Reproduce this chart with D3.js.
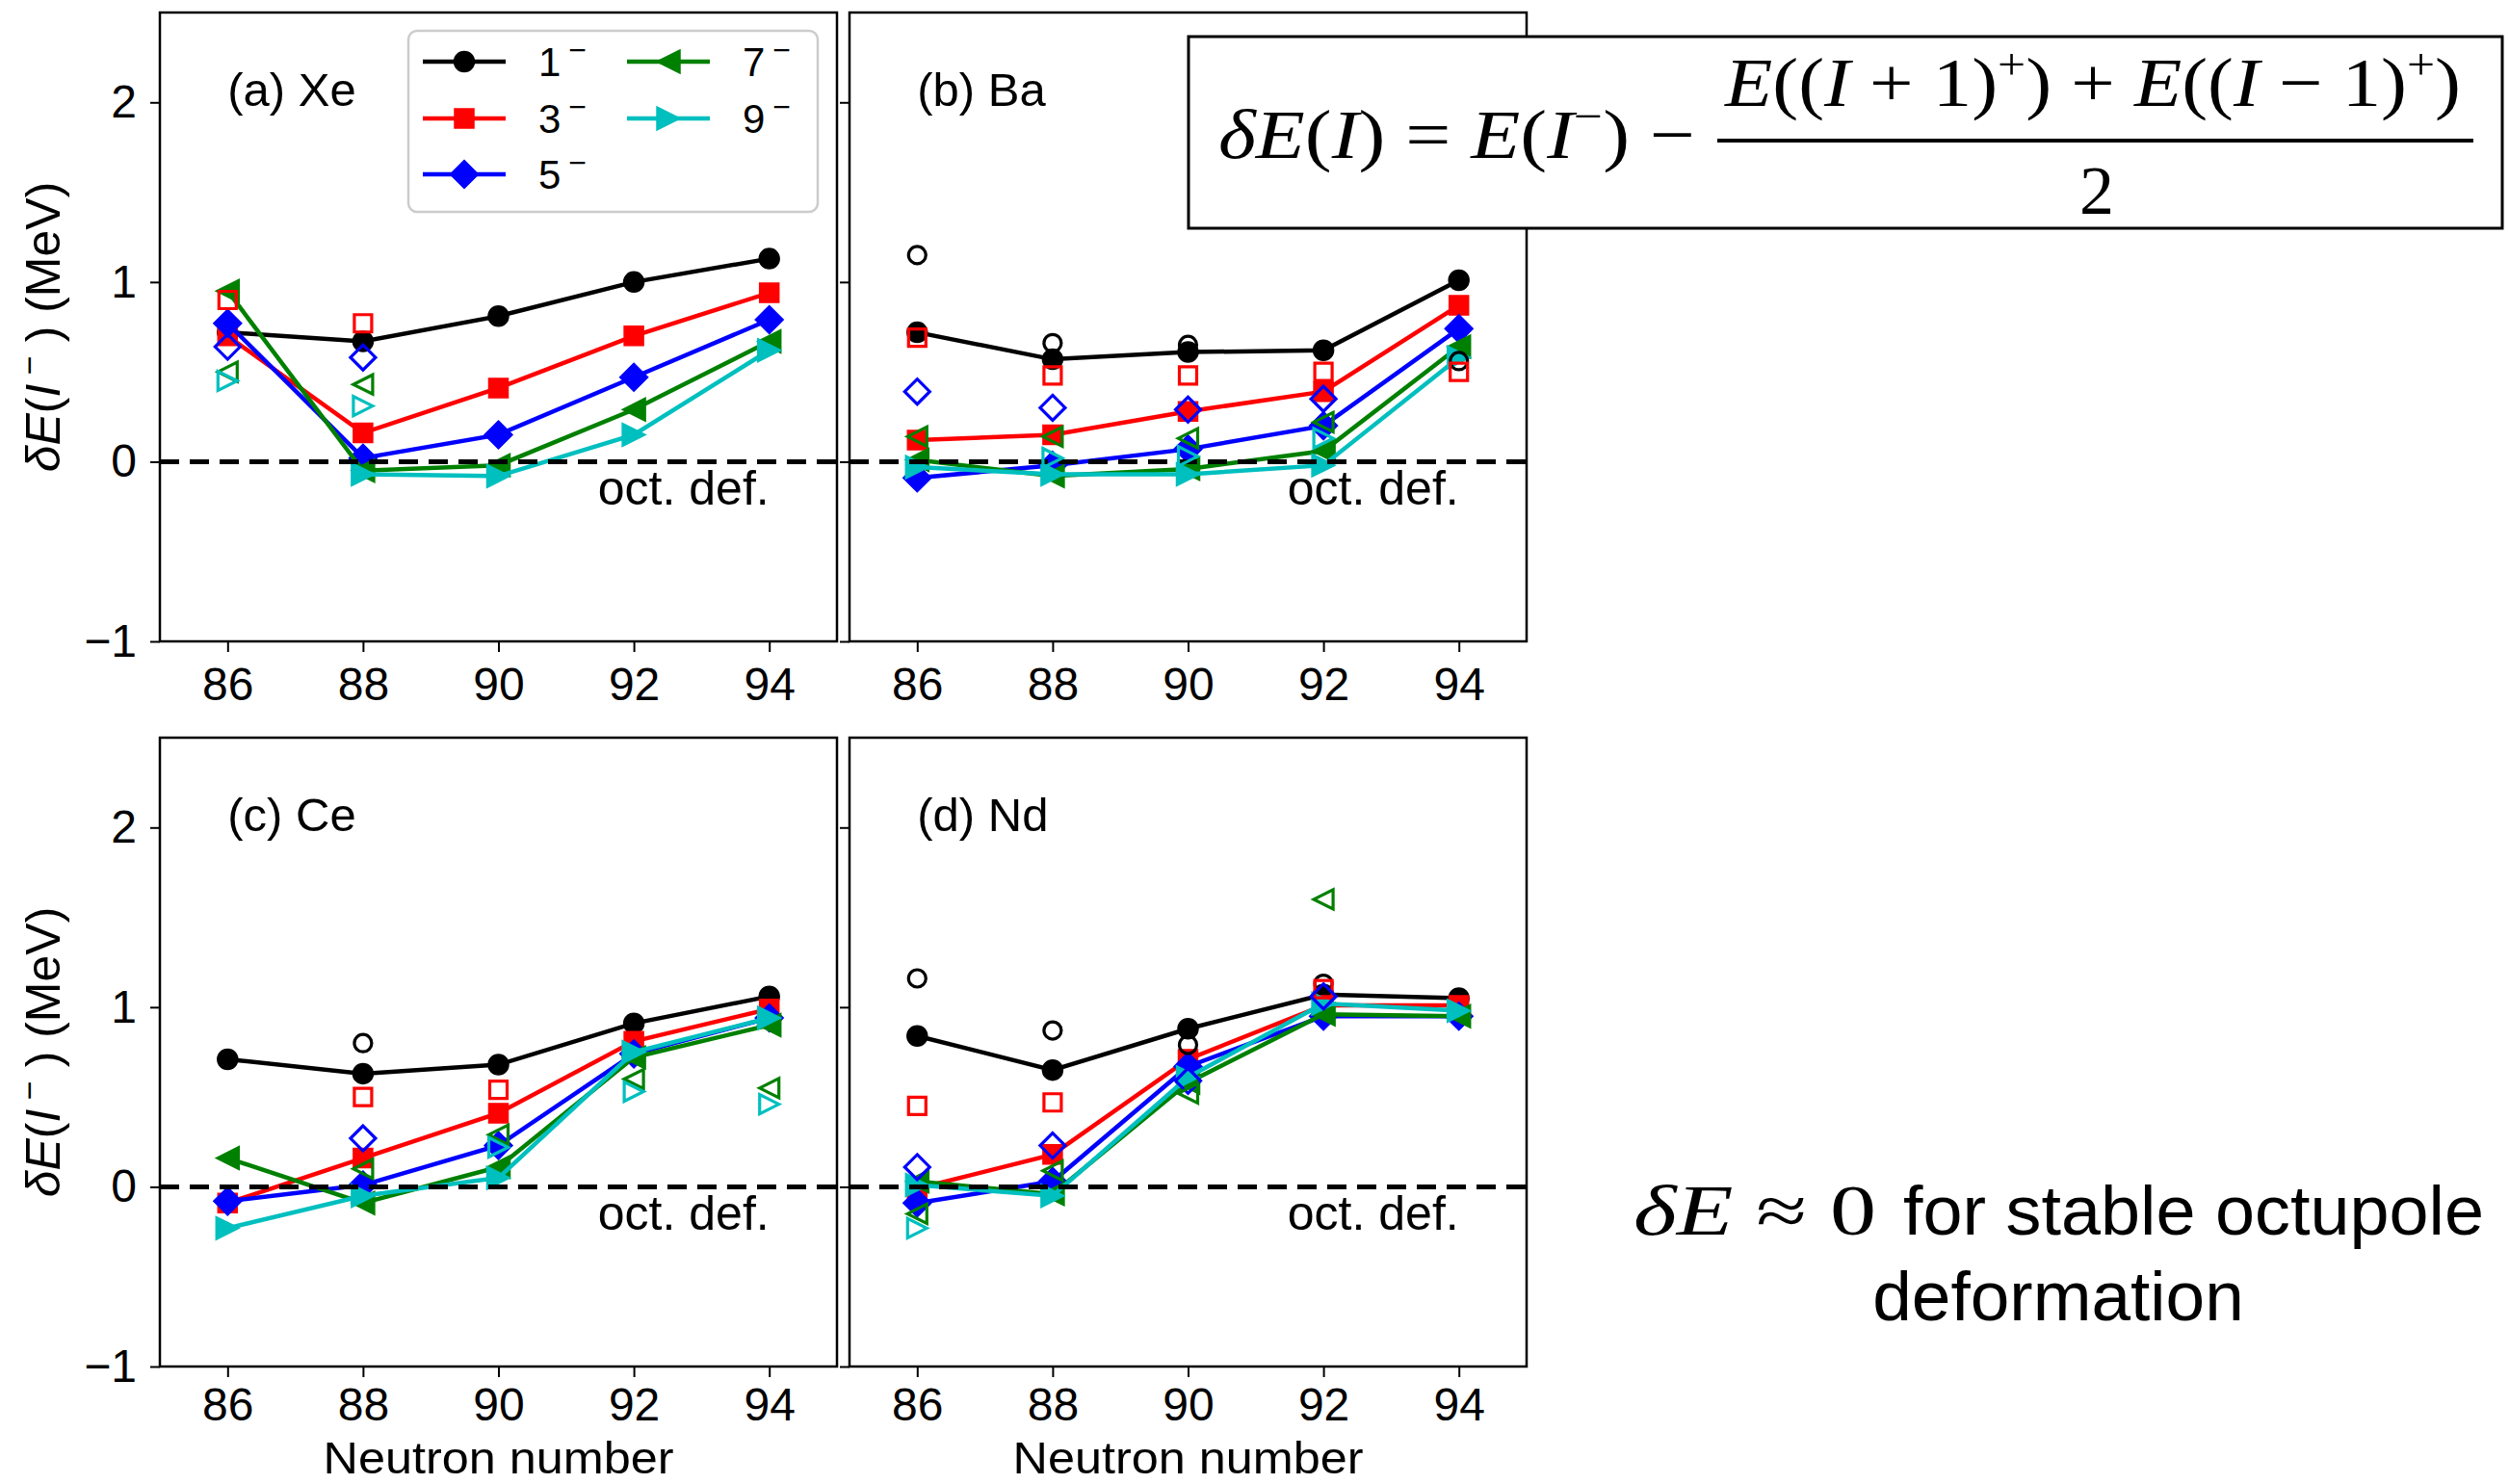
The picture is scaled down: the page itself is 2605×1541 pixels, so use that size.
<!DOCTYPE html>
<html>
<head>
<meta charset="utf-8">
<script src="https://cdn.jsdelivr.net/npm/d3@7"></script>
<style>
  body { margin: 0; background: #fff; }
  svg { display: block; font-family: "Liberation Sans", Arial, sans-serif; }
</style>
</head>
<body>
<svg></svg>
<script>
const width = 2605, height = 1541;

// data
const neutrons = [86, 88, 90, 92, 94];
const spins = ["1", "3", "5", "7", "9"];
const y_ticks = [-1, 0, 1, 2];
const panel_labels = ["(a) Xe", "(b) Ba", "(c) Ce", "(d) Nd"];

// calculated values (filled, joined), one row per spin 1-,3-,5-,7-,9-
const xe_calc = [
  [0.72, 0.67, 0.81, 1.00, 1.13],
  [0.70, 0.16, 0.41, 0.70, 0.94],
  [0.77, 0.02, 0.15, 0.47, 0.79],
  [0.95, -0.05, -0.02, 0.29, 0.67],
  [null, -0.07, -0.08, 0.15, 0.62]
];
const ba_calc = [
  [0.72, 0.57, 0.61, 0.62, 1.01],
  [0.12, 0.15, 0.28, 0.39, 0.87],
  [-0.09, -0.02, 0.07, 0.20, 0.74],
  [0.01, -0.08, -0.04, 0.06, 0.64],
  [-0.03, -0.07, -0.07, -0.02, 0.58]
];
const ce_calc = [
  [0.71, 0.63, 0.68, 0.91, 1.06],
  [-0.09, 0.16, 0.41, 0.81, 0.99],
  [-0.08, 0.01, 0.23, 0.74, 0.94],
  [0.16, -0.09, 0.11, 0.72, 0.90],
  [-0.23, -0.05, 0.05, 0.75, 0.94]
];
const nd_calc = [
  [0.84, 0.65, 0.88, 1.07, 1.05],
  [-0.01, 0.18, 0.71, 1.01, 1.01],
  [-0.09, 0.03, 0.67, 0.95, 0.95],
  [0.03, -0.04, 0.58, 0.96, 0.95],
  [0.01, -0.05, 0.61, 1.02, 0.98]
];

// experimental values (open markers)
const xe_exp = [
  [null, null, null, null, null],
  [0.90, 0.77, null, null, null],
  [0.64, 0.58, null, null, null],
  [0.50, 0.43, null, null, null],
  [0.45, 0.31, null, null, null]
];
const ba_exp = [
  [1.15, 0.66, 0.65, null, 0.56],
  [0.69, 0.48, 0.48, 0.50, 0.50],
  [0.39, 0.30, 0.29, 0.35, null],
  [0.14, 0.14, 0.13, 0.22, null],
  [null, 0.02, 0.03, 0.13, null]
];
const ce_exp = [
  [null, 0.80, null, null, null],
  [null, 0.50, 0.54, null, null],
  [null, 0.27, null, null, null],
  [null, 0.10, 0.29, 0.60, 0.55],
  [null, null, 0.22, 0.53, 0.46]
];
const nd_exp = [
  [1.16, 0.87, 0.79, 1.13, null],
  [0.45, 0.47, null, 1.10, null],
  [0.11, 0.23, 0.59, 1.06, null],
  [-0.15, 0.09, 0.52, 1.60, null],
  [-0.23, null, null, null, null]
];

// marker shapes, size = extent squared
const circle = { draw(c, s) { const r = Math.sqrt(s) / 2; c.moveTo(r, 0); c.arc(0, 0, r, 0, 2 * Math.PI); } };
const square = { draw(c, s) { const h = Math.sqrt(s) / 2; c.rect(-h, -h, 2 * h, 2 * h); } };
const diamond = { draw(c, s) { const h = Math.sqrt(s) / 2; c.moveTo(0, -h); c.lineTo(h, 0); c.lineTo(0, h); c.lineTo(-h, 0); c.closePath(); } };
const tri_left = { draw(c, s) { const h = Math.sqrt(s) / 2; c.moveTo(-h, 0); c.lineTo(h, -h); c.lineTo(h, h); c.closePath(); } };
const tri_right = { draw(c, s) { const h = Math.sqrt(s) / 2; c.moveTo(h, 0); c.lineTo(-h, -h); c.lineTo(-h, h); c.closePath(); } };

const colors = ["#000000", "#ff0000", "#0000ff", "#008000", "#00bfbf"];
const shapes = [circle, square, diamond, tri_left, tri_right];
const filled_size = [21, 20, 29, 24, 24];
const open_size = [18, 18, 26, 20, 20];

const svg = d3.select("svg").attr("width", width).attr("height", height);
svg.append("rect").attr("width", width).attr("height", height).attr("fill", "#fff");

const panel_w = 703, panel_h = 653;
const col_left = [166, 882];
const row_top = [13, 766];

const panels = [
  { label: panel_labels[0], calc: xe_calc, exp: xe_exp, col: 0, row: 0 },
  { label: panel_labels[1], calc: ba_calc, exp: ba_exp, col: 1, row: 0 },
  { label: panel_labels[2], calc: ce_calc, exp: ce_exp, col: 0, row: 1 },
  { label: panel_labels[3], calc: nd_calc, exp: nd_exp, col: 1, row: 1 }
];

panels.forEach((p) => {
  const x0 = col_left[p.col], y0 = row_top[p.row];
  const x = d3.scaleLinear().domain([85, 95]).range([x0, x0 + panel_w]);
  const y = d3.scaleLinear().domain([-1, 2.5]).range([y0 + panel_h, y0]);
  const g = svg.append("g");

  // axes
  const x_axis = d3.axisBottom(x).tickValues(neutrons).tickSize(11).tickPadding(p.row === 0 ? 16 : 11);
  const y_axis = d3.axisLeft(y).tickValues(y_ticks).tickSize(10).tickPadding(14)
    .tickFormat(p.col === 1 ? "" : d3.format("d"));

  const gx = g.append("g").attr("transform", `translate(0,${y0 + panel_h})`).call(x_axis);
  const gy = g.append("g").attr("transform", `translate(${x0},0)`).call(y_axis);
  [gx, gy].forEach((a) => {
    a.select(".domain").remove();
    a.selectAll(".tick line").attr("stroke", "#000").attr("stroke-width", 2);
    a.selectAll(".tick text").attr("fill", "#000").style("font-size", "48px")
      .style("font-family", "'Liberation Sans', Arial, sans-serif");
  });

  // lines with filled markers
  const line = d3.line()
    .defined((d) => d != null)
    .x((d, i) => x(neutrons[i]))
    .y((d) => y(d));

  p.calc.forEach((vals, s) => {
    g.append("path")
      .attr("d", line(vals))
      .attr("fill", "none")
      .attr("stroke", colors[s])
      .attr("stroke-width", 4.5);
    g.selectAll(null)
      .data(vals.map((v, i) => ({ n: neutrons[i], v })).filter((d) => d.v != null))
      .join("path")
      .attr("transform", (d) => `translate(${x(d.n)},${y(d.v)})`)
      .attr("d", d3.symbol().type(shapes[s]).size(filled_size[s] * filled_size[s]))
      .attr("fill", colors[s])
      .attr("stroke", colors[s])
      .attr("stroke-width", 1.5);
  });

  // zero line
  g.append("line")
    .attr("x1", x0).attr("x2", x0 + panel_w)
    .attr("y1", y(0)).attr("y2", y(0))
    .attr("stroke", "#000")
    .attr("stroke-width", 5)
    .attr("stroke-dasharray", "20,11");

  // open markers
  p.exp.forEach((vals, s) => {
    g.selectAll(null)
      .data(vals.map((v, i) => ({ n: neutrons[i], v })).filter((d) => d.v != null))
      .join("path")
      .attr("transform", (d) => `translate(${x(d.n)},${y(d.v)})`)
      .attr("d", d3.symbol().type(shapes[s]).size(open_size[s] * open_size[s]))
      .attr("fill", "none")
      .attr("stroke", colors[s])
      .attr("stroke-width", 3.2);
  });

  // frame
  g.append("rect")
    .attr("x", x0).attr("y", y0)
    .attr("width", panel_w).attr("height", panel_h)
    .attr("fill", "none")
    .attr("stroke", "#000")
    .attr("stroke-width", 2.5);

  // texts
  g.append("text")
    .attr("x", x(86)).attr("y", y(1.98))
    .style("font-size", "49px")
    .text(p.label);

  g.append("text")
    .attr("x", x(94)).attr("y", y(-0.24))
    .attr("text-anchor", "end")
    .style("font-size", "50px")
    .text("oct. def.");

  if (p.row === 1) {
    g.append("text")
      .attr("x", x0 + panel_w / 2).attr("y", 1530)
      .attr("text-anchor", "middle")
      .attr("textLength", 364).attr("lengthAdjust", "spacingAndGlyphs")
      .style("font-size", "47px")
      .text("Neutron number");
  }

  if (p.col === 0) {
    const yl = g.append("text")
      .attr("transform", `translate(62,${y0 + panel_h / 2}) rotate(-90)`)
      .attr("text-anchor", "middle")
      .style("font-size", "50px");
    yl.append("tspan").style("font-style", "italic").text("δE");
    yl.append("tspan").text("(");
    yl.append("tspan").style("font-style", "italic").text("I");
    yl.append("tspan").attr("dy", -20).style("font-size", "34px").text(" −");
    yl.append("tspan").attr("dy", 20).text(" ) (MeV)");
  }
});

// legend in panel (a)
const legend = svg.append("g");
legend.append("rect")
  .attr("x", 424).attr("y", 32)
  .attr("width", 425).attr("height", 188)
  .attr("rx", 9)
  .attr("fill", "#fff").attr("fill-opacity", 0.8)
  .attr("stroke", "#cccccc").attr("stroke-width", 2.5);

const leg_col_x = [439, 651];
const leg_row_y = [64, 123, 181];
spins.forEach((s, i) => {
  const col = i < 3 ? 0 : 1, row = i < 3 ? i : i - 3;
  const lx = leg_col_x[col], ly = leg_row_y[row];
  legend.append("line")
    .attr("x1", lx).attr("x2", lx + 86)
    .attr("y1", ly).attr("y2", ly)
    .attr("stroke", colors[i]).attr("stroke-width", 4.5);
  legend.append("path")
    .attr("transform", `translate(${lx + 43},${ly})`)
    .attr("d", d3.symbol().type(shapes[i]).size(filled_size[i] * filled_size[i]))
    .attr("fill", colors[i]).attr("stroke", colors[i]).attr("stroke-width", 1.5);
  const t = legend.append("text")
    .attr("x", lx + 120).attr("y", ly + 15)
    .style("font-size", "42px");
  t.append("tspan").text(s);
  t.append("tspan").attr("dx", 8).attr("dy", -16).style("font-size", "32px").text("−");
});

// formula box
const serif = "'Liberation Serif', 'DejaVu Serif', serif";
const fbox = svg.append("g").style("font-family", serif);
fbox.append("rect")
  .attr("x", 1234).attr("y", 38)
  .attr("width", 1364).attr("height", 199)
  .attr("fill", "#fff").attr("stroke", "#000").attr("stroke-width", 3);

const lhs = fbox.append("text")
  .attr("x", 1265).attr("y", 164)
  .attr("textLength", 495).attr("lengthAdjust", "spacingAndGlyphs")
  .style("font-size", "72px");
lhs.append("tspan").style("font-style", "italic").text("δE");
lhs.append("tspan").text("(");
lhs.append("tspan").style("font-style", "italic").text("I");
lhs.append("tspan").text(") = ");
lhs.append("tspan").style("font-style", "italic").text("E");
lhs.append("tspan").text("(");
lhs.append("tspan").style("font-style", "italic").text("I");
lhs.append("tspan").attr("dy", -28).style("font-size", "46px").text("−");
lhs.append("tspan").attr("dy", 28).text(") −");

const num = fbox.append("text")
  .attr("x", 1791).attr("y", 110)
  .attr("textLength", 764).attr("lengthAdjust", "spacingAndGlyphs")
  .style("font-size", "72px");
num.append("tspan").style("font-style", "italic").text("E");
num.append("tspan").text("((");
num.append("tspan").style("font-style", "italic").text("I");
num.append("tspan").text(" + 1)");
num.append("tspan").attr("dy", -28).style("font-size", "46px").text("+");
num.append("tspan").attr("dy", 28).text(") + ");
num.append("tspan").style("font-style", "italic").text("E");
num.append("tspan").text("((");
num.append("tspan").style("font-style", "italic").text("I");
num.append("tspan").text(" − 1)");
num.append("tspan").attr("dy", -28).style("font-size", "46px").text("+");
num.append("tspan").attr("dy", 28).text(")");

fbox.append("line")
  .attr("x1", 1783).attr("x2", 2568)
  .attr("y1", 146).attr("y2", 146)
  .attr("stroke", "#000").attr("stroke-width", 4);

fbox.append("text")
  .attr("x", 2177).attr("y", 222)
  .attr("text-anchor", "middle")
  .style("font-size", "72px")
  .text("2");

// note at bottom right
const note = svg.append("g");
const nm = note.append("text")
  .attr("x", 1696).attr("y", 1282)
  .attr("textLength", 252).attr("lengthAdjust", "spacingAndGlyphs")
  .style("font-family", serif)
  .style("font-size", "74px");
nm.append("tspan").style("font-style", "italic").text("δE");
nm.append("tspan").text(" ≈ 0");

note.append("text")
  .attr("x", 1976).attr("y", 1282)
  .attr("textLength", 603).attr("lengthAdjust", "spacingAndGlyphs")
  .style("font-size", "73px")
  .text("for stable octupole");

note.append("text")
  .attr("x", 2137).attr("y", 1371)
  .attr("text-anchor", "middle")
  .style("font-size", "73px")
  .text("deformation");
</script>
</body>
</html>
